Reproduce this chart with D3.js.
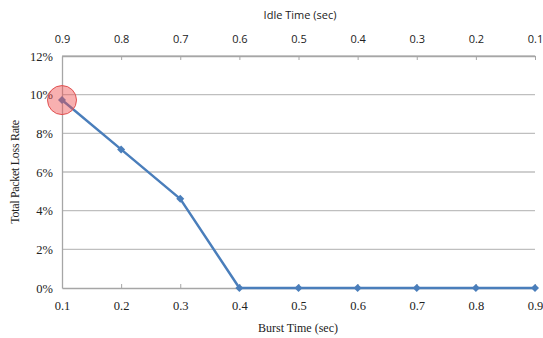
<!DOCTYPE html>
<html><head><meta charset="utf-8">
<script src="https://cdn.jsdelivr.net/npm/d3@7"></script>
<style>body{margin:0;background:#fff}svg{display:block}</style>
</head><body>
<svg id="c" width="543" height="338"></svg>
<script>
const burstTimes = [0.1,0.2,0.3,0.4,0.5,0.6,0.7,0.8,0.9];
const idleLabels = ["0.9","0.8","0.7","0.6","0.5","0.4","0.3","0.2","0.1"];
const lossRate = [0.0972,0.0717,0.0461,0,0,0,0,0,0];
const yTicks = [0,0.02,0.04,0.06,0.08,0.10,0.12];

const svg = d3.select("#c");
const L=62,R=535,T=56,B=288;
const x = d3.scaleLinear().domain([0.1,0.9]).range([L,R]);
const xTop = d3.scalePoint().domain(idleLabels).range([L,R]);
const y = d3.scaleLinear().domain([0,0.12]).range([B,T]);
const serif = "'Liberation Serif','Times New Roman',serif";
const sans = "'Open Sans','Liberation Sans',sans-serif";

// gridlines
svg.append("g").selectAll("line").data(yTicks.filter(d=>d>0)).join("line")
  .attr("x1",L).attr("x2",R).attr("y1",d=>y(d)).attr("y2",d=>y(d))
  .attr("stroke","#bfbfbf").attr("stroke-width",1.3);

// left axis
const ly = svg.append("g").attr("transform",`translate(${L},0)`)
  .call(d3.axisLeft(y).tickValues(yTicks).tickFormat(d3.format(".0%")).tickSize(0).tickPadding(9));
ly.select(".domain").attr("stroke","#a6a6a6").attr("stroke-width",1.3);
ly.selectAll("text").attr("font-family",serif).attr("font-size",12.5).attr("fill","#222");

// bottom axis
const bx = svg.append("g").attr("transform",`translate(0,${B})`)
  .call(d3.axisBottom(x).tickValues(burstTimes).tickFormat(d3.format(".1f")).tickSizeInner(-4).tickSizeOuter(0).tickPadding(13));
bx.select(".domain").attr("stroke","#a6a6a6").attr("stroke-width",1.3);
bx.selectAll(".tick line").attr("stroke","#a6a6a6");
bx.selectAll("text").attr("font-family",serif).attr("font-size",12.5).attr("fill","#222");

// top axis
const tx = svg.append("g").attr("transform",`translate(0,${T})`)
  .call(d3.axisTop(xTop).tickSizeInner(-4).tickSizeOuter(0).tickPadding(13));
tx.select(".domain").attr("stroke","#a6a6a6").attr("stroke-width",1.3);
tx.selectAll(".tick line").attr("stroke","#a6a6a6");
tx.selectAll("text").attr("font-family",sans).attr("font-size",11).attr("fill","#222");

// titles
svg.append("text").attr("x",300).attr("y",19).attr("text-anchor","middle")
  .attr("font-family",sans).attr("font-size",11).attr("fill","#222").text("Idle Time (sec)");
svg.append("text").attr("x",298).attr("y",332).attr("text-anchor","middle")
  .attr("font-family",serif).attr("font-size",12).attr("fill","#222").text("Burst Time (sec)");
svg.append("text").attr("transform","translate(19,172) rotate(-90)").attr("text-anchor","middle")
  .attr("font-family",serif).attr("font-size",12).attr("fill","#222").attr("letter-spacing",-0.3).text("Total Packet Loss Rate");

// line
const pts = burstTimes.map((b,i)=>[b,lossRate[i]]);
svg.append("path").datum(pts)
  .attr("d",d3.line().x(d=>x(d[0])).y(d=>y(d[1])))
  .attr("fill","none").attr("stroke","#4a7ebb").attr("stroke-width",2.5).attr("stroke-linejoin","round");
svg.append("g").selectAll("path").data(pts).join("path")
  .attr("d",d3.symbol().type(d3.symbolSquare).size(32))
  .attr("transform",d=>`translate(${x(d[0])},${y(d[1])}) rotate(45)`)
  .attr("fill","#4a7ebb");

// highlight circle
svg.append("circle").attr("cx",x(pts[0][0])).attr("cy",y(pts[0][1])).attr("r",14.5)
  .attr("fill","rgba(240,80,80,0.45)").attr("stroke","#e05050").attr("stroke-width",1);
</script>
</body></html>
